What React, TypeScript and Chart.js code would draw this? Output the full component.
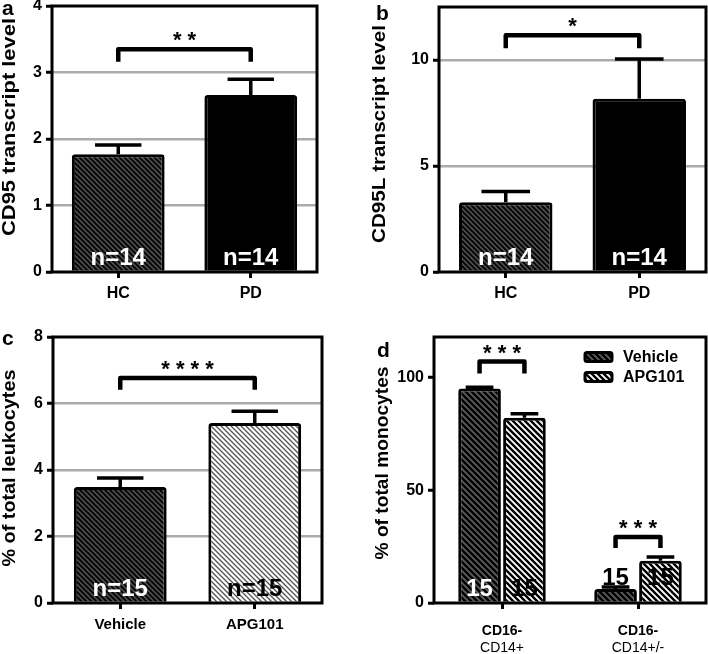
import React, { useEffect, useRef } from 'react';
import { Chart, registerables } from 'chart.js';

Chart.register(...registerables);

const FONT = '"Liberation Sans", Arial, Helvetica, sans-serif';

// ---------- Panel a : CD95 transcript level ----------
const aCategories = ['HC', 'PD'];
const aMeans = [1.77, 2.66];
const aSem = [0.14, 0.24];
const aN = ['n=14', 'n=14'];
const aYTicks = [0, 1, 2, 3, 4];
const aStars = '* *';

// ---------- Panel b : CD95L transcript level ----------
const bCategories = ['HC', 'PD'];
const bMeans = [3.29, 8.17];
const bSem = [0.51, 1.88];
const bN = ['n=14', 'n=14'];
const bYTicks = [0, 5, 10];
const bStars = '*';

// ---------- Panel c : % of total leukocytes ----------
const cCategories = ['Vehicle', 'APG101'];
const cMeans = [3.49, 5.41];
const cSem = [0.27, 0.36];
const cN = ['n=15', 'n=15'];
const cYTicks = [0, 2, 4, 6, 8];
const cStars = '* * * *';

// ---------- Panel d : % of total monocytes ----------
const dCategoriesLine1 = ['CD16-', 'CD16-'];
const dCategoriesLine2 = ['CD14+', 'CD14+/-'];
const dSeriesNames = ['Vehicle', 'APG101'];
const dVehicleMeans = [95.1, 6.2];
const dVehicleSem = [0.6, 0.9];
const dApgMeans = [82.2, 18.7];
const dApgSem = [1.8, 1.7];
const dVehicleN = ['15', '15'];
const dApgN = ['15', '15'];
const dYTicks = [0, 50, 100];
const dStars = ['* * *', '* * *'];

type Fill = string | { bg: string; line: string; size: number; width: number };
type Series = {
  label: string;
  means: number[];
  sem: number[];
  fills: Fill[];
  nLabels: string[];
  nColors: string[];
  nBase: number[];
};
type Bracket = { from: [number, number]; to: [number, number]; y: number; legs: number; text: string };
type Panel = {
  key: string;
  letter: string;
  letterX: number;
  letterY: number;
  box: { left: number; top: number; width: number; height: number };
  area: { left: number; top: number; right: number; bottom: number };
  categories: string[];
  categories2?: string[];
  series: Series[];
  yMax: number;
  yTicks: number[];
  grid: boolean;
  yTitle: string;
  titleX: number;
  titleY: number;
  titleLen: number;
  brackets: Bracket[];
  barPct: number;
  catPct: number;
  capRatio: number;
  xFont: number;
  xPad: number;
  x2Height?: number;
  legend?: { swatchX: number; textX: number; rows: number[]; w: number; h: number };
};

const darkHatch: Fill = { bg: '#4a4a4a', line: '#000', size: 5, width: 1.6 };
const lightHatch: Fill = { bg: '#fff', line: '#555', size: 5, width: 1.35 };
const dDarkHatch: Fill = { bg: '#5c5c5c', line: '#000', size: 6, width: 2.4 };
const dLightHatch: Fill = { bg: '#fff', line: '#000', size: 6, width: 2.4 };

const panels: Panel[] = [
  {
    key: 'a', letter: 'a', letterX: 2, letterY: 15,
    box: { left: 0, top: -12, width: 354, height: 332 },
    area: { left: 52, top: 6, right: 317, bottom: 272 },
    categories: aCategories,
    series: [{ label: 'a', means: aMeans, sem: aSem, fills: [darkHatch, '#000'], nLabels: aN, nColors: ['#fff', '#fff'], nBase: [0, 0] }],
    yMax: 4, yTicks: aYTicks, grid: true,
    yTitle: 'CD95 transcript level', titleX: 10, titleY: 127, titleLen: 218,
    brackets: [{ from: [0, 0], to: [0, 1], y: 3.35, legs: 3.16, text: aStars }],
    barPct: 0.7, catPct: 1, capRatio: 0.5, xFont: 16, xPad: 6,
  },
  {
    key: 'b', letter: 'b', letterX: 376, letterY: 20,
    box: { left: 354, top: -12, width: 354, height: 332 },
    area: { left: 439, top: 7, right: 706, bottom: 272 },
    categories: bCategories,
    series: [{ label: 'b', means: bMeans, sem: bSem, fills: [darkHatch, '#000'], nLabels: bN, nColors: ['#fff', '#fff'], nBase: [0, 0] }],
    yMax: 12.5, yTicks: bYTicks, grid: true,
    yTitle: 'CD95L transcript level', titleX: 380, titleY: 134, titleLen: 218,
    brackets: [{ from: [0, 0], to: [0, 1], y: 11.17, legs: 10.56, text: bStars }],
    barPct: 0.7, catPct: 1, capRatio: 0.52, xFont: 16, xPad: 6,
  },
  {
    key: 'c', letter: 'c', letterX: 2, letterY: 345,
    box: { left: 0, top: 310, width: 354, height: 344 },
    area: { left: 53, top: 337, right: 322, bottom: 603 },
    categories: cCategories,
    series: [{ label: 'c', means: cMeans, sem: cSem, fills: [darkHatch, lightHatch], nLabels: cN, nColors: ['#fff', '#000'], nBase: [0, 0] }],
    yMax: 8, yTicks: cYTicks, grid: true,
    yTitle: '% of total leukocytes', titleX: 10, titleY: 468, titleLen: 197,
    brackets: [{ from: [0, 0], to: [0, 1], y: 6.77, legs: 6.41, text: cStars }],
    barPct: 0.69, catPct: 1, capRatio: 0.5, xFont: 15, xPad: 7,
  },
  {
    key: 'd', letter: 'd', letterX: 377, letterY: 357,
    box: { left: 354, top: 310, width: 354, height: 344 },
    area: { left: 434, top: 337, right: 706, bottom: 603 },
    categories: dCategoriesLine1,
    categories2: dCategoriesLine2,
    series: [
      { label: dSeriesNames[0], means: dVehicleMeans, sem: dVehicleSem, fills: [dDarkHatch, dDarkHatch], nLabels: dVehicleN, nColors: ['#fff', '#000'], nBase: [0, 4.9] },
      { label: dSeriesNames[1], means: dApgMeans, sem: dApgSem, fills: [dLightHatch, dLightHatch], nLabels: dApgN, nColors: ['#000', '#000'], nBase: [0, 4.9] },
    ],
    yMax: 118, yTicks: dYTicks, grid: false,
    yTitle: '% of total monocytes', titleX: 383, titleY: 463, titleLen: 193,
    brackets: [
      { from: [0, 0], to: [1, 0], y: 107.1, legs: 101.8, text: dStars[0] },
      { from: [0, 1], to: [1, 1], y: 29.3, legs: 24.4, text: dStars[1] },
    ],
    barPct: 0.95, catPct: 0.66, capRatio: 0.65, xFont: 14, xPad: 14, x2Height: 14,
    legend: { swatchX: 585, textX: 623, rows: [357, 377], w: 27, h: 9 },
  },
];

function makeFill(ctx: CanvasRenderingContext2D, spec: Fill): string | CanvasPattern {
  if (typeof spec === 'string') return spec;
  const s = spec.size;
  const t = document.createElement('canvas');
  t.width = s;
  t.height = s;
  const c = t.getContext('2d') as CanvasRenderingContext2D;
  c.fillStyle = spec.bg;
  c.fillRect(0, 0, s, s);
  c.strokeStyle = spec.line;
  c.lineWidth = spec.width;
  c.beginPath();
  for (let k = -2; k <= 2; k++) {
    c.moveTo(k * s - s, -s);
    c.lineTo(k * s + 2 * s, 2 * s);
  }
  c.stroke();
  return ctx.createPattern(t, 'repeat') as CanvasPattern;
}

function makeDecor(p: Panel) {
  const ox = p.box.left;
  const oy = p.box.top;
  return {
    id: 'decor_' + p.key,
    afterDatasetsDraw(chart: any) {
      const ctx: CanvasRenderingContext2D = chart.ctx;
      const ys = chart.scales.y;
      const area = chart.chartArea;
      ctx.save();
      // n labels
      p.series.forEach((s, di) => {
        const meta = chart.getDatasetMeta(di);
        meta.data.forEach((bar: any, i: number) => {
          ctx.font = `bold 24px ${FONT}`;
          ctx.fillStyle = s.nColors[i];
          ctx.textAlign = 'center';
          ctx.textBaseline = 'alphabetic';
          ctx.fillText(s.nLabels[i], bar.x, ys.getPixelForValue(s.nBase[i]) - 7);
        });
      });
      // error bars
      ctx.strokeStyle = '#000';
      ctx.lineWidth = 3.5;
      ctx.lineCap = 'butt';
      p.series.forEach((s, di) => {
        const meta = chart.getDatasetMeta(di);
        meta.data.forEach((bar: any, i: number) => {
          const top = ys.getPixelForValue(s.means[i] + s.sem[i]);
          const bot = ys.getPixelForValue(s.means[i]);
          const half = (bar.width * p.capRatio) / 2;
          ctx.beginPath();
          ctx.moveTo(bar.x, bot);
          ctx.lineTo(bar.x, top);
          ctx.moveTo(bar.x - half, top);
          ctx.lineTo(bar.x + half, top);
          ctx.stroke();
        });
      });
      // frame
      ctx.lineWidth = 3;
      ctx.strokeRect(area.left, area.top, area.right - area.left, area.bottom - area.top);
      // brackets
      p.brackets.forEach((b) => {
        const x1 = chart.getDatasetMeta(b.from[0]).data[b.from[1]].x;
        const x2 = chart.getDatasetMeta(b.to[0]).data[b.to[1]].x;
        const yb = ys.getPixelForValue(b.y);
        const yl = ys.getPixelForValue(b.legs);
        ctx.lineWidth = 4.5;
        ctx.lineJoin = 'round';
        ctx.beginPath();
        ctx.moveTo(x1, yl);
        ctx.lineTo(x1, yb);
        ctx.lineTo(x2, yb);
        ctx.lineTo(x2, yl);
        ctx.stroke();
        ctx.font = `bold 22px ${FONT}`;
        ctx.fillStyle = '#000';
        ctx.textAlign = 'center';
        ctx.textBaseline = 'alphabetic';
        ctx.fillText(b.text, (x1 + x2) / 2, yb - 2);
      });
      // legend
      if (p.legend) {
        const L = p.legend;
        p.series.forEach((s, di) => {
          const cy = L.rows[di] - oy;
          const x = L.swatchX - ox;
          const ds = chart.data.datasets[di];
          ctx.beginPath();
          ctx.roundRect(x, cy - L.h / 2, L.w, L.h, 2);
          ctx.fillStyle = ds.backgroundColor[0];
          ctx.fill();
          ctx.lineWidth = 3;
          ctx.strokeStyle = '#000';
          ctx.stroke();
          ctx.font = `bold 16px ${FONT}`;
          ctx.fillStyle = '#000';
          ctx.textAlign = 'left';
          ctx.textBaseline = 'middle';
          ctx.fillText(s.label, L.textX - ox, cy + 1);
        });
      }
      // y title
      ctx.font = `bold 19px ${FONT}`;
      const w = ctx.measureText(p.yTitle).width;
      ctx.save();
      ctx.translate(p.titleX - ox, p.titleY - oy);
      ctx.rotate(-Math.PI / 2);
      ctx.scale(p.titleLen / w, 1);
      ctx.fillStyle = '#000';
      ctx.textAlign = 'center';
      ctx.textBaseline = 'middle';
      ctx.fillText(p.yTitle, 0, 0);
      ctx.restore();
      // panel letter
      ctx.font = `bold 21px ${FONT}`;
      ctx.fillStyle = '#000';
      ctx.textAlign = 'left';
      ctx.textBaseline = 'alphabetic';
      ctx.fillText(p.letter, p.letterX - ox, p.letterY - oy);
      ctx.restore();
    },
  };
}

function PanelChart({ p }: { p: Panel }) {
  const ref = useRef<HTMLCanvasElement>(null);
  useEffect(() => {
    const canvas = ref.current as HTMLCanvasElement;
    const ctx = canvas.getContext('2d') as CanvasRenderingContext2D;
    const ox = p.box.left;
    const oy = p.box.top;
    const yWidth = p.area.left - ox;
    const below = oy + p.box.height - p.area.bottom;
    const xHeight = below - (p.x2Height || 0);
    const scales: any = {
      x: {
        type: 'category',
        position: 'bottom',
        offset: true,
        grid: { display: true, drawOnChartArea: false, drawTicks: true, tickLength: 6, tickWidth: 3, tickColor: '#000', offset: false },
        border: { display: false },
        ticks: { color: '#000', font: { family: FONT, size: p.xFont, weight: 'bold' }, padding: p.xPad, maxRotation: 0, autoSkip: false },
        afterFit: (s: any) => { s.height = xHeight; },
      },
      y: {
        type: 'linear',
        min: 0,
        max: p.yMax,
        afterBuildTicks: (s: any) => { s.ticks = p.yTicks.map((v) => ({ value: v })); },
        grid: {
          color: (c: any) => (p.grid && c.tick && c.tick.value > 0 && c.tick.value < p.yMax ? '#ababab' : 'rgba(0,0,0,0)'),
          lineWidth: 2.5,
          drawTicks: true,
          tickLength: 6,
          tickWidth: 3,
          tickColor: '#000',
        },
        border: { display: false },
        ticks: { color: '#000', font: { family: FONT, size: 16, weight: 'bold' }, padding: 4 },
        afterFit: (s: any) => { s.width = yWidth; },
      },
    };
    if (p.categories2) {
      scales.x2 = {
        type: 'category',
        position: 'bottom',
        labels: p.categories2,
        offset: true,
        grid: { display: false, drawTicks: false },
        border: { display: false },
        ticks: { color: '#000', font: { family: FONT, size: 14, weight: 'normal' }, padding: 0, maxRotation: 0, autoSkip: false },
        afterFit: (s: any) => { s.height = p.x2Height; },
      };
    }
    const chart = new Chart(canvas, {
      type: 'bar',
      data: {
        labels: p.categories,
        datasets: p.series.map((s) => ({
          label: s.label,
          data: s.means,
          backgroundColor: s.fills.map((f) => makeFill(ctx, f)) as any,
          borderColor: '#000',
          borderWidth: 3,
          borderRadius: 3,
          barPercentage: p.barPct,
          categoryPercentage: p.catPct,
        })),
      },
      options: {
        responsive: false,
        animation: false,
        events: [],
        layout: {
          padding: { left: 0, top: p.area.top - oy, right: ox + p.box.width - p.area.right, bottom: 0 },
        },
        plugins: { legend: { display: false }, tooltip: { enabled: false }, title: { display: false } },
        scales,
      },
      plugins: [makeDecor(p)],
    });
    return () => chart.destroy();
  }, [p]);
  return (
    <div style={{ position: 'absolute', left: p.box.left, top: p.box.top, width: p.box.width, height: p.box.height }}>
      <canvas ref={ref} width={p.box.width} height={p.box.height} style={{ width: p.box.width, height: p.box.height, display: 'block' }} />
    </div>
  );
}

export default function App() {
  useEffect(() => {
    document.body.style.margin = '0';
  }, []);
  return (
    <div style={{ position: 'absolute', left: 0, top: 0, width: 708, height: 654, overflow: 'hidden', background: '#fff' }}>
      {panels.map((p) => (
        <PanelChart key={p.key} p={p} />
      ))}
    </div>
  );
}
